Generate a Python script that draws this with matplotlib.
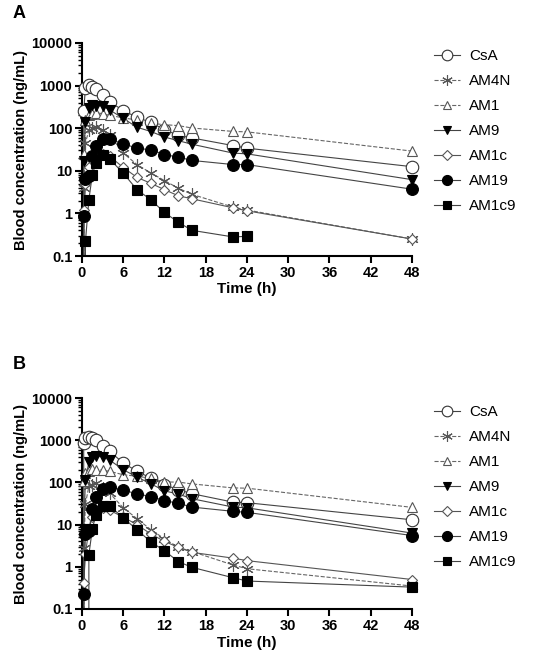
import numpy as np
import matplotlib
matplotlib.use("Agg")
import matplotlib.pyplot as plt
from matplotlib.lines import Line2D

plt.rcParams['font.family'] = ['Liberation Sans', 'DejaVu Sans']

nan = np.nan
times = [0, 0.25, 0.5, 1, 1.5, 2, 3, 4, 6, 8, 10, 12, 14, 16, 22, 24, 48]
series_names = ["CsA", "AM4N", "AM1", "AM9", "AM1c", "AM19", "AM1c9"]
xticks = [0, 6, 12, 18, 24, 30, 36, 42, 48]
yticks = [0.1, 1, 10, 100, 1000, 10000]
yticklabels = ["0.1", "1", "10", "100", "1000", "10000"]

# Panel A
csa_a = [0, 250, 900, 1050, 950, 850, 600, 420, 260, 180, 137, 92, 68, 59, 39, 34, 12.5]
am4n_a = [0, 4, 45, 90, 100, 105, 90, 70, 26, 14, 8.9, 5.9, 3.9, 2.8, 1.4, 1.2, 0.25]
am1_a = [0, 25, 160, 200, 220, 230, 220, 200, 175, 155, 130, 121, 115, 101, 84, 82, 29]
am9_a = [0, 17, 140, 300, 350, 340, 330, 270, 170, 105, 84, 62, 51, 42, 26, 25, 6.2]
am1c_a = [0, 1.2, 5, 12, 18, 22, 25, 22, 12, 7, 5.1, 3.6, 2.6, 2.2, 1.35, 1.15, 0.25]
am19_a = [0, 0.85, 6.5, 7.5, 22, 38, 57, 55, 43, 34, 31, 24, 21, 17.5, 14, 14, 3.7]
am1c9_a = [0, nan, 0.22, 2.1, 8, 15, 23, 19, 8.8, 3.6, 2.1, 1.05, 0.62, 0.40, 0.28, 0.29, nan]

# Panel B
csa_b = [0, 850, 1100, 1200, 1100, 1000, 740, 545, 290, 183, 127, 88, 67, 54, 34, 33, 13]
am4n_b = [0, 2.8, 31, 81, 88, 96, 75, 56, 25, 13.8, 7.6, 4.6, 2.9, 2.3, 1.1, 0.9, 0.35]
am1_b = [0, 106, 165, 190, 207, 200, 195, 183, 152, 140, 125, 102, 102, 92, 74, 73, 25.6]
am9_b = [0, 8, 115, 300, 400, 420, 400, 340, 200, 134, 93, 63, 53, 41, 26, 25, 6.3]
am1c_b = [0, 0.41, 2, 8, 15, 20, 25, 22, 15, 10, 6, 4.0, 2.9, 2.2, 1.6, 1.4, 0.5]
am19_b = [0, 0.23, 6, 7, 23, 45, 70, 78, 65, 54, 46, 37, 32, 26, 20.6, 19.5, 5.5]
am1c9_b = [0, nan, nan, 1.95, 7.7, 17, 27, 28, 14.4, 7.6, 3.9, 2.4, 1.33, 0.97, 0.55, 0.46, 0.33]

styles = {
    "CsA":   dict(marker='o', ms=9, mfc='white', mec='#333333', mew=0.8),
    "AM4N":  dict(marker=(6, 2, 0), ms=9, mfc='none', mec='#555555', mew=0.8),
    "AM1":   dict(marker='^', ms=6.5, mfc='white', mec='#555555', mew=0.8),
    "AM9":   dict(marker='v', ms=7, mfc='black', mec='black', mew=0.8),
    "AM1c":  dict(marker='D', ms=5.5, mfc='white', mec='#555555', mew=0.8),
    "AM19":  dict(marker='o', ms=8.5, mfc='black', mec='black', mew=0.8),
    "AM1c9": dict(marker='s', ms=6.5, mfc='black', mec='black', mew=0.8),
}
line_styles = {
    "CsA": ('-', '#444444'), "AM4N": ('--', '#666666'), "AM1": ('--', '#666666'),
    "AM9": ('-', '#444444'), "AM1c": ('-', '#555555'), "AM19": ('-', '#444444'),
    "AM1c9": ('-', '#444444'),
}

fig = plt.figure(figsize=(5.36, 6.68), dpi=100)
W, H = 536, 668

def make_axes(top_px, bot_px):
    left, right = 82, 412
    return fig.add_axes([left / W, 1 - bot_px / H, (right - left) / W, (bot_px - top_px) / H])

panels = [
    ("A", make_axes(43, 256), [csa_a, am4n_a, am1_a, am9_a, am1c_a, am19_a, am1c9_a], 13, 57),
    ("B", make_axes(398, 609), [csa_b, am4n_b, am1_b, am9_b, am1c_b, am19_b, am1c9_b], 365, 413),
]

t = np.array(times, dtype=float)
for letter, ax, data, letter_y, leg_y in panels:
    ax.set_yscale('log', nonpositive='clip')
    handles = []
    for name, vals in zip(series_names, data):
        v = np.array(vals, dtype=float)
        m = ~np.isnan(v)
        ls, col = line_styles[name]
        st = styles[name]
        # connecting line (clipped to the axes)
        ax.plot(t[m], v[m], ls=ls, color=col, lw=0.8, zorder=2)
        # markers (positive values only, not clipped)
        mp = m & (np.nan_to_num(v) > 0)
        ax.plot(t[mp], v[mp], ls='none', clip_on=False, zorder=3, **st)
        handles.append(Line2D([], [], ls=ls, color=col, lw=0.8, **st))
    ax.set_xlim(0, 48)
    ax.set_ylim(0.1, 10000)
    ax.set_xticks(xticks)
    ax.set_xticklabels([str(x) for x in xticks], fontsize=10.5, fontweight='bold')
    ax.set_yticks(yticks)
    ax.set_yticklabels(yticklabels, fontsize=10.5, fontweight='bold')
    ax.spines['top'].set_visible(False)
    ax.spines['right'].set_visible(False)
    for s in ('left', 'bottom'):
        ax.spines[s].set_linewidth(1.5)
    ax.tick_params(axis='both', which='major', length=5, width=1.5, direction='out', pad=2)
    ax.tick_params(axis='y', which='minor', length=3, width=1.0, direction='out')
    ax.set_xlabel("Time (h)", fontsize=11, fontweight='bold', labelpad=2)
    ax.set_ylabel("Blood concentration (ng/mL)", fontsize=10.5, fontweight='bold', labelpad=2)
    fig.text(13 / W, 1 - letter_y / H, letter, fontsize=13, fontweight='bold', ha='left', va='center')
    fig.legend(handles=handles, labels=series_names, loc='upper left',
               bbox_to_anchor=(428 / W, 1 - (leg_y - 14) / H), frameon=False,
               fontsize=11, handlelength=1.7, labelspacing=0.72, markerscale=0.85,
               borderaxespad=0, handletextpad=0.6)

fig.savefig("out.png", dpi=100)
